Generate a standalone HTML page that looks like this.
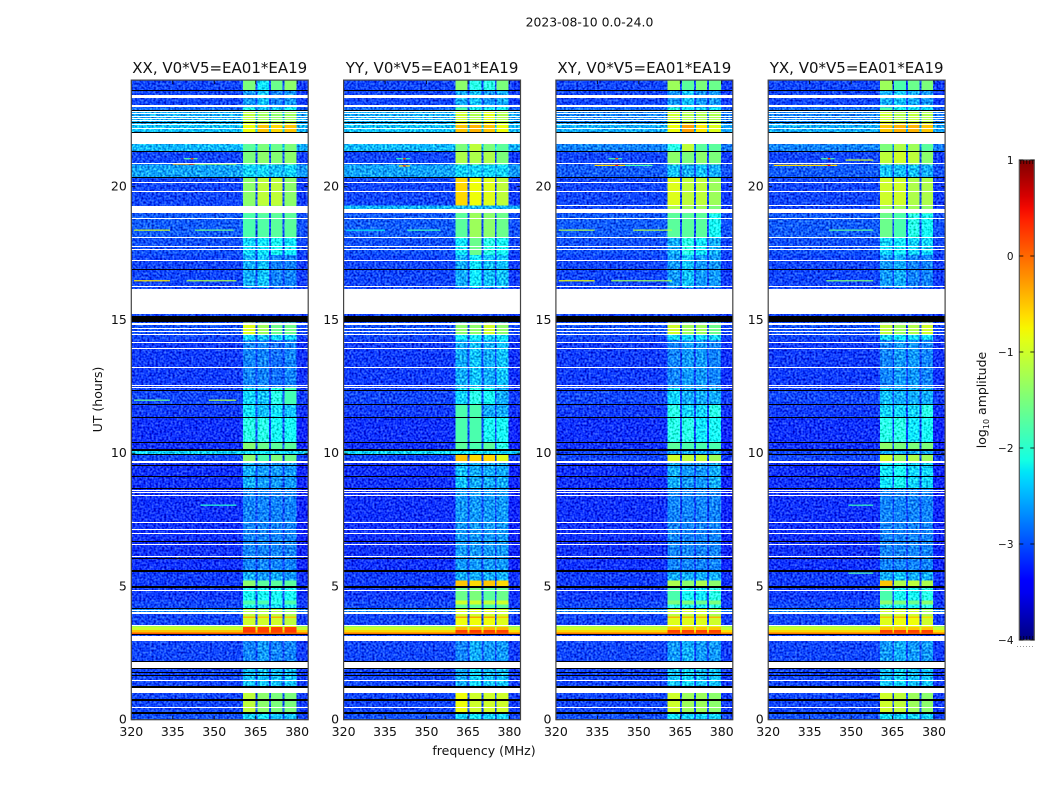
<!DOCTYPE html>
<html lang="en">
<head>
<meta charset="utf-8">
<title>2023-08-10 dynamic spectra</title>
<style>
html,body{margin:0;padding:0;background:#fff;width:1050px;height:800px;overflow:hidden}
svg{display:block}
text{font-family:"DejaVu Sans","Liberation Sans",sans-serif;fill:#111}
</style>
</head>
<body>
<svg id="chart" xmlns="http://www.w3.org/2000/svg" width="1050" height="800" viewBox="0 0 1050 800">
  <defs id="defs"></defs>
  <rect x="0" y="0" width="1050" height="800" fill="#fff"/>
  <text x="589.5" y="26.5" font-size="12.4" text-anchor="middle">2023-08-10 0.0-24.0</text>
  <text x="484" y="755" font-size="12.5" text-anchor="middle">frequency (MHz)</text>
  <text transform="translate(102,399.5) rotate(-90)" font-size="12.5" text-anchor="middle">UT (hours)</text>
  <text transform="translate(986,400) rotate(-90)" font-size="12.5" text-anchor="middle">log<tspan font-size="8" dy="3">10</tspan><tspan dy="-3"> amplitude</tspan></text>
</svg>
<script>
// ---- axis data ----
const panelNames = ["XX", "YY", "XY", "YX"];
const freqTicks = [320, 335, 350, 365, 380];
const hourTicks = [0, 5, 10, 15, 20];
const colorTicks = [1, 0, -1, -2, -3, -4];
// frequency edges (MHz): background, band1, gap, band2, gap, band3, gap, band4, background
const freqEdges = [320, 360.4, 364.9, 365.6, 369.9, 370.6, 374.7, 375.4, 379.7, 384];
// time edges (UT hours) bounding the rows of each panel table
const timeEdges = [24,23.62,22.98,22.83,22.38,22,21.6,21.33,20.84,20.36,19.3,19.15,19,18.1,17.43,16.19,15.22,14.91,14.47,14.24,12.48,11.84,11.35,10.41,10.11,9.96,9.66,8.69,5.61,5.23,4.97,4.48,4.33,4.18,4,3.88,3.81,3.53,3.47,3.36,3.28,3.21,2.95,2.2,1.93,1.26,1,.28,0];

// log10 amplitude per time row: [background, band1, band2, band3, band4]
const levelsXX = [
[-3.1,-1.5,-2.1,-1.6,-1.4],[-3.1,-2.5,-2.3,-2.6,-2.5],[-2.7,-1.9,-2.3,-2.2,-2],[-2.4,-1.1,-1.3,-1.4,-1.3],[-2.3,-.8,-.5,-.6,-.5],
[-2.3,-1.7,-1.5,-1.6,-1.5],[-2.35,-1.7,-1.5,-1.6,-1.5],[-3.1,-1.5,-1.4,-1.45,-1.4],[-2.45,-2.2,-2.2,-2.3,-2.2],[-3.1,-1.4,-1.1,-1.1,-1.4],
[-3.1,-1.5,-1.4,-1.4,-1.5],[-3.1,-1.6,-1.5,-1.5,-1.6],[-3,-1.8,-1.75,-1.7,-1.7],[-3.05,-2.2,-2.1,-2,-2.1],[-3.1,-2.4,-2.3,-2.6,-2.6],
[-3.1,-3.1,-3.1,-3.1,-3.1],[-3.1,-3.1,-3.1,-3.1,-3.1],[-3.05,-.9,-1.3,-1.6,-1.6],[-3.1,-2.2,-2.3,-2.2,-2.2],[-3.15,-2.6,-2.6,-2.7,-2.6],
[-3.1,-2.2,-2.3,-1.9,-1.85],[-3.15,-2.1,-2.3,-2.1,-2.3],[-3.2,-1.9,-1.9,-2,-2],[-3.2,-1.45,-1.6,-1.7,-1.7],[-2.2,-2.15,-2.1,-2.15,-2.2],
[-3.1,-1.4,-1.8,-1.5,-1.6],[-3.2,-2.4,-2.5,-2.5,-2.5],[-3.2,-2.6,-2.6,-2.6,-2.6],[-3.15,-2.4,-2.5,-2.4,-2.5],[-3.15,-1.4,-1.7,-1.7,-1.7],
[-3.15,-2,-2,-2,-2],[-3.1,-1.8,-1.8,-1.9,-1.8],[-3.1,-2,-2.2,-2.2,-2.1],[-2.6,-1.2,-1.2,-1.2,-1.4],[-3.1,-1.1,-1.1,-1.1,-1.2],
[-3.1,-.4,-.5,-.35,-.5],[-3.1,-1,-1,-1,-1.1],[-1.3,-.9,-.9,-.9,-.9],[-1,.2,.2,.2,.2],[-.5,.25,.2,.2,.25],
[.05,.05,.05,.05,.05],[-3.1,-3.1,-3.1,-3.1,-3.1],[-3.1,-2.6,-2.5,-2.6,-2.6],[-3.1,-3.1,-3.1,-3.1,-3.1],[-3.1,-2.3,-2.3,-2.3,-2.3],
[-3.1,-3.1,-3.1,-3.1,-3.1],[-3.1,-1.1,-1.4,-1.5,-1.5],[-2.85,-2.2,-2.1,-2.3,-2.3]];
const levelsYY = [
[-3.1,-1.4,-1.9,-1.9,-1.5],[-3.1,-2.4,-2.3,-2.5,-2.4],[-2.7,-1.8,-2,-2,-2],[-2.4,-1,-1.2,-.9,-1.2],[-2.3,-.5,-.4,-.5,-.8],
[-2.3,-1.5,-1.1,-1.5,-1.7],[-2.35,-1.5,-1.1,-1.5,-1.7],[-3.1,-1.2,-1.2,-1.2,-1.5],[-2.45,-2.2,-2.2,-2.2,-2.2],[-3.1,-.6,-.8,-.9,-1.1],
[-2.35,-2.35,-2.35,-2.35,-2.35],[-3.1,-1.6,-1.4,-1.5,-1.6],[-3,-1.7,-1.3,-1.4,-1.6],[-3.05,-2.1,-1.6,-1.9,-2],[-3.1,-2.4,-2.1,-2.3,-2.3],
[-3.1,-3.1,-3.1,-3.1,-3.1],[-3.1,-3.1,-3.1,-3.1,-3.1],[-3.05,-1.4,-1.4,-1,-1.4],[-3.1,-2.1,-2.1,-2.2,-2.1],[-3.15,-2.4,-2.3,-2.4,-2.3],
[-3.1,-2.2,-1.9,-2,-2.4],[-3.15,-1.8,-1.8,-2.4,-2.4],[-3.2,-1.8,-1.8,-2,-2],[-3.2,-1.7,-1.8,-1.7,-1.9],[-2.2,-2.15,-2.1,-2.15,-2.2],
[-3.1,-.5,-.6,-.6,-.9],[-3.2,-2.3,-2.4,-2.4,-2.4],[-3.2,-2.5,-2.5,-2.5,-2.5],[-3.15,-2.4,-2.4,-2.4,-2.4],[-3.15,-.5,-.6,-.5,-.6],
[-3.15,-1.6,-1.5,-1.7,-1.6],[-3.1,-1,-1,-1.1,-1],[-3.1,-1.7,-1.7,-1.8,-1.7],[-2.6,-.9,-.9,-.9,-1],[-3.1,-1,-1,-1,-1],
[-3.1,-.3,-.3,-.3,-.5],[-3.1,-.8,-.8,-.8,-.9],[-1.4,-1,-1,-1,-1],[-1,-.4,-.4,-.4,-.4],[-.6,.2,.25,.2,.2],
[-.1,.1,.1,.1,.1],[-3.1,-3.1,-3.1,-3.1,-3.1],[-3.1,-2.6,-2.4,-2.5,-2.5],[-3.1,-3.1,-3.1,-3.1,-3.1],[-3.1,-2.4,-2.2,-2.3,-2.3],
[-3.1,-3.1,-3.1,-3.1,-3.1],[-3.1,-.8,-1,-1,-1],[-2.85,-2.2,-2.1,-2.2,-2.2]];
const levelsXY = [
[-3.1,-1.3,-1.7,-1.5,-1.6],[-3.1,-2.5,-2.3,-2.5,-2.5],[-2.7,-1.9,-2.1,-2.2,-2.1],[-2.6,-1,-1.2,-1.2,-1.2],[-2.4,-.8,-.3,-.7,-.9],
[-2.6,-1.9,-1.1,-1.7,-1.7],[-2.6,-1.9,-1.1,-1.7,-1.7],[-3.1,-1.4,-1.5,-1.4,-1.5],[-3,-2.3,-2.4,-2.3,-2.4],[-3.1,-.9,-1.1,-1.1,-1.3],
[-3.1,-1.2,-1.3,-1.3,-1.5],[-3.1,-1.6,-1.6,-1.6,-1.7],[-3,-1.7,-1.7,-1.7,-2],[-3.05,-2.4,-1.9,-2.1,-2.4],[-3.1,-2.5,-2.3,-2.5,-2.5],
[-3.1,-3.1,-3.1,-3.1,-3.1],[-3.1,-3.1,-3.1,-3.1,-3.1],[-3.05,-1,-1.3,-1.3,-1.6],[-3.1,-2.2,-2.2,-2.2,-2.2],[-3.15,-2.6,-2.5,-2.5,-2.6],
[-3.1,-2.2,-2.4,-2.4,-2.4],[-3.15,-1.9,-2.2,-2.2,-1.9],[-3.2,-1.9,-1.9,-2.1,-2],[-3.2,-1.7,-1.8,-1.8,-1.8],[-3.1,-2.4,-2.4,-2.4,-2.4],
[-3.1,-1,-1.1,-1.1,-1.3],[-3.2,-2.4,-2.5,-2.5,-2.4],[-3.2,-2.6,-2.6,-2.6,-2.6],[-3.15,-2.4,-2.4,-2.4,-2.4],[-3.15,-1.2,-1.4,-1.2,-1.4],
[-3.15,-1.8,-2,-2.1,-1.9],[-3.1,-1.5,-1.5,-1.6,-1.5],[-3.1,-1.9,-2,-2.1,-1.9],[-2.6,-1,-1,-1,-1.2],[-3.1,-1.1,-1.1,-1,-1.2],
[-3.1,-.4,-.4,-.4,-.4],[-3.1,-.9,-.9,-.9,-1],[-1.3,-.9,-.9,-.9,-.9],[-1,-.5,-.5,-.5,-.5],[-.6,.2,.2,.2,.2],
[-.1,.1,.1,.1,.1],[-3.1,-3.1,-3.1,-3.1,-3.1],[-3.1,-2.5,-2.4,-2.5,-2.5],[-3.1,-3.1,-3.1,-3.1,-3.1],[-3.1,-2.3,-2.2,-2.3,-2.3],
[-3.1,-3.1,-3.1,-3.1,-3.1],[-3.1,-1,-1.3,-1.3,-1.4],[-2.85,-2.1,-2.2,-2.2,-2.2]];
const levelsYX = [
[-3.1,-1.3,-1.8,-1.6,-1.5],[-3.1,-2.4,-2.3,-2.4,-2.5],[-2.7,-1.8,-2,-2.1,-2.1],[-2.6,-1,-1.2,-1.1,-1.2],[-2.4,-.5,-.4,-.4,-.5],
[-2.6,-1.5,-1.2,-1.3,-1.7],[-2.6,-1.5,-1.2,-1.3,-1.7],[-3.1,-1.1,-1,-1.1,-1.4],[-3,-2.3,-2.3,-2.3,-2.4],[-3.1,-1,-1,-1.2,-1.2],
[-3.1,-1.3,-1.3,-1.3,-1.4],[-3.1,-1.5,-1.6,-1.6,-1.6],[-3,-1.6,-1.8,-1.9,-2],[-3.05,-2.2,-2.1,-2.2,-2.2],[-3.1,-2.5,-2.4,-2.6,-2.6],
[-3.1,-3.1,-3.1,-3.1,-3.1],[-3.1,-3.1,-3.1,-3.1,-3.1],[-3.05,-1.1,-1.3,-1.2,-1],[-3.1,-2.2,-2.1,-2.2,-2.2],[-3.15,-2.6,-2.5,-2.5,-2.6],
[-3.1,-2.3,-2.4,-2.4,-2.4],[-3.15,-2.2,-2.2,-2.2,-1.9],[-3.2,-1.9,-1.9,-2.1,-2],[-3.2,-1.4,-1.5,-1.5,-1.5],[-3.1,-2.4,-2.4,-2.4,-2.4],
[-3.1,-1,-1.3,-1.2,-1.3],[-3.2,-2.1,-2,-2.2,-2.2],[-3.2,-2.6,-2.6,-2.6,-2.6],[-3.15,-2.4,-2.3,-2.4,-2.4],[-3.15,-.5,-1.2,-1.1,-1.2],
[-3.15,-1.8,-2,-2,-1.9],[-3.1,-1.4,-1.5,-1.6,-1.4],[-3.1,-1.9,-2,-2,-1.9],[-2.6,-1,-1,-1,-1.3],[-3.1,-1.1,-1,-1,-1.2],
[-3.1,-.5,-.4,-.5,-.6],[-3.1,-.9,-.8,-.8,-1],[-1.3,-.9,-.9,-.9,-.9],[-1,-.5,-.5,-.5,-.5],[-.6,.2,.2,.2,.2],
[-.1,.1,.1,.1,.1],[-3.1,-3.1,-3.1,-3.1,-3.1],[-3.1,-2.5,-2.4,-2.5,-2.5],[-3.1,-3.1,-3.1,-3.1,-3.1],[-3.1,-2.3,-2.2,-2.3,-2.3],
[-3.1,-3.1,-3.1,-3.1,-3.1],[-3.1,-1,-1.1,-1.3,-1.4],[-2.85,-2.1,-2.2,-2.2,-2.2]];

// narrow interference lines: [UT hour, start MHz, end MHz, log10 amplitude]
const linesXX = [[18.37,321,334,-1],[18.37,343,357,-1.6],[16.47,321,334,-.7],[16.47,340,358,-1.2],[11.99,321,334,-1.6],[11.99,348,358,-1.2],[21.05,339,344,-1.7],[21.05,341.5,342.5,.4],[20.85,335,343,-.3],[20.85,341,342.5,.6],[20.85,343,358,-1.2],[8.05,345,358,-2],[6.05,336,338,-.9]];
const linesYY = [[21.05,339,344,-2],[21.05,341.5,342.5,.3],[20.78,340,344,-.6],[20.78,341.5,342.5,.4],[18.37,321,335,-2.2],[18.37,343,355,-1.9]];
const linesXY = [[21.05,339,344,-1.8],[21.05,341.5,342.5,.3],[20.8,334,345,-.6],[20.8,341.5,342.5,.5],[20.8,345,355,-1.8],[18.37,321,334,-1.2],[18.37,348,362,-1.2],[16.47,321,334,-.8],[16.47,340,362,-1.3]];
const linesYX = [[21.05,339,344,-1.8],[21.05,341.5,342.5,.3],[20.8,322,345,-.6],[20.8,341.5,342.5,.5],[21,348,358,-1],[18.37,342,358,-1.7],[16.47,341,358,-1.5],[8.05,349,358,-1.9],[5.5,349,358,-1.8]];

// flagged (blank, drawn white) time ranges shared by all panels: [from hour, to hour]
const blankRanges = [[23.32,23.43],[22.99,23.06],[22.81,22.85],[22.72,22.76],[22.63,22.67],[22.55,22.59],[22.46,22.5],[22.3,22.34],[22.17,22.22],[21.6,22],[20.85,20.89],[20.14,20.18],[19.8,19.84],[19.02,19.16],[18.79,18.83],[18.06,18.1],[17.72,17.76],[17.63,17.67],[17.21,17.25],[16.23,16.27],[15.22,16.17],[14.8,14.9],[14.66,14.7],[14.56,14.6],[14.43,14.47],[14.13,14.17],[13.91,13.95],[13.2,13.24],[12.53,12.57],[12.45,12.49],[9.63,9.71],[8.57,8.61],[8.51,8.55],[8.39,8.43],[7.38,7.42],[7.12,7.16],[6.97,7.01],[6.55,6.59],[6.09,6.13],[4.84,4.88],[4.09,4.13],[3.97,4.05],[3.53,3.57],[2.96,3.14],[1.94,2.17],[1.45,1.49],[1,1.18],[.44,.48]];
// extra blank ranges per panel
const blankXX = [[19.18,19.29]];
const blankYY = [];
const blankXY = [[19.27,19.32]];
const blankYX = [[19.27,19.32]];
// zero-amplitude (black) time ranges
const zeroRanges = [[23.59,23.63],[22.85,22.89],[22.38,22.42],[22.02,22.06],[21.3,21.34],[20.32,20.36],[16.87,16.91],[14.92,15.14],[12.34,12.38],[11.81,11.86],[11.33,11.37],[10.39,10.43],[10.1,10.15],[9.93,9.97],[9.53,9.57],[9.12,9.16],[8.66,8.7],[6.65,6.69],[6.04,6.08],[5.55,5.61],[4.96,5],[4.16,4.2],[3.16,3.21],[2.18,2.22],[1.89,1.93],[1.76,1.8],[1.65,1.69],[1.18,1.26],[.72,.76],[.21,.28]];

const panelLevels = [levelsXX, levelsYY, levelsXY, levelsYX];
const panelLines = [linesXX, linesYY, linesXY, linesYX];
const panelBlanks = [blankXX, blankYY, blankXY, blankYX];

// ---- axis functions ----
const NS = "http://www.w3.org/2000/svg";
const svg = document.getElementById("chart");
const defs = document.getElementById("defs");
const panelLeft = [131.3, 343.6, 555.9, 768.2];
const PLOT_W = 176.9;
const PLOT_TOP = 80.1;
const PLOT_BOTTOM = 719.7;
function xScale(mhz) { return (mhz - 320) * PLOT_W / 64; }
function yScale(hour) { return PLOT_BOTTOM - hour * (PLOT_BOTTOM - PLOT_TOP) / 24; }
function ramp(t, pts) {
  for (let i = 1; i < pts.length; i++) {
    if (t <= pts[i][0]) {
      const a = pts[i - 1], b = pts[i];
      return a[1] + (b[1] - a[1]) * (t - a[0]) / (b[0] - a[0]);
    }
  }
  return pts[pts.length - 1][1];
}
function jet(v) {
  const t = Math.max(0, Math.min(1, (v + 4) / 5));
  const r = ramp(t, [[0,0],[.35,0],[.66,1],[.89,1],[1,.5]]);
  const g = ramp(t, [[0,0],[.125,0],[.375,1],[.64,1],[.91,0],[1,0]]);
  const b = ramp(t, [[0,.5],[.11,1],[.34,1],[.65,0],[1,0]]);
  return "rgb(" + Math.round(r * 255) + "," + Math.round(g * 255) + "," + Math.round(b * 255) + ")";
}
// the grain filter shifts perceived colour; compensate so the mean matches the level
function grainColor(v) {
  if (v <= -3) return jet(v);
  if (v <= -1.9) return jet(v - 0.2);
  return jet(v);
}
function mk(tag, attrs, parent) {
  const el = document.createElementNS(NS, tag);
  for (const k in attrs) el.setAttribute(k, attrs[k]);
  parent.appendChild(el);
  return el;
}
function addCell(parent, x0, x1, y0, y1, fill) {
  const cell = mk("rect", { x: x0, y: y0, width: Math.max(0, x1 - x0), height: Math.max(0, y1 - y0), fill: fill, "shape-rendering": "crispEdges" }, parent);
  
  
  return cell;
}
function addRange(parent, range, fill, name) {
  const top = Math.round(yScale(range[1]));
  const bottom = Math.round(yScale(range[0]));
  const mark = mk("rect", { x: 0, y: top, width: PLOT_W, height: Math.max(1, bottom - top), fill: fill, "shape-rendering": "crispEdges" }, parent);
  
  
}

panelNames.forEach(function (name, p) {
  const left = panelLeft[p];
  const fid = "noise" + p;
  // purely visual receiver-noise grain applied to the low-amplitude cells
  const filter = mk("filter", { id: fid, filterUnits: "userSpaceOnUse", x: 0, y: PLOT_TOP, width: PLOT_W, height: PLOT_BOTTOM - PLOT_TOP, "color-interpolation-filters": "sRGB" }, defs);
  mk("feTurbulence", { type: "fractalNoise", baseFrequency: "0.48", numOctaves: "1", seed: String(3 + p * 7), result: "t" }, filter);
  mk("feColorMatrix", { in: "t", type: "matrix", values: "1.8 0 0 0 -0.4 1.8 0 0 0 -0.4 1.8 0 0 0 -0.4 0 0 0 0 1", result: "n" }, filter);
  mk("feComposite", { in: "SourceGraphic", in2: "n", operator: "arithmetic", k1: "0.3", k2: "0.85", k3: "0.45", k4: "-0.17" }, filter);

  const g = mk("g", { transform: "translate(" + left + ",0)" }, svg);
  
  

  const noisy = mk("g", { filter: "url(#" + fid + ")" }, g);
  
  
  const smooth = mk("g", {}, g);
  
  

  const levels = panelLevels[p];
  levels.forEach(function (row, r) {
    const y0 = yScale(timeEdges[r]);
    const y1 = yScale(timeEdges[r + 1]);
    const bg = row[0];
    const gap = Math.max(bg, -2.9);
    const cols = [bg, row[1], gap, row[2], gap, row[3], gap, row[4], bg - 0.05];
    cols.forEach(function (v, c) {
      const isNoisy = v <= -1.9;
      addCell(isNoisy ? noisy : smooth, xScale(freqEdges[c]), xScale(freqEdges[c + 1]), y0, y1, isNoisy ? grainColor(v) : jet(v));
    });
  });

  panelLines[p].forEach(function (l) {
    const mark = mk("rect", { x: xScale(l[1]), y: yScale(l[0]) - 0.6, width: xScale(l[2]) - xScale(l[1]), height: 1.2, fill: jet(l[3]) }, g);
    
    
  });

  blankRanges.concat(panelBlanks[p]).forEach(function (b) {
    addRange(g, b, "#fff", "flagged-time-range");
  });
  zeroRanges.forEach(function (b) {
    addRange(g, b, "#000", "zero-amplitude-range");
  });

  // ticks
  freqTicks.forEach(function (f) {
    const x = xScale(f);
    const t1 = mk("line", { x1: x, x2: x, y1: PLOT_BOTTOM, y2: PLOT_BOTTOM - 4, stroke: "#000", "stroke-width": 0.8 }, g);
    
    
    const t2 = mk("line", { x1: x, x2: x, y1: PLOT_TOP, y2: PLOT_TOP + 4, stroke: "#000", "stroke-width": 0.8 }, g);
    
    
    const lab = mk("text", { x: x, y: 736, "font-size": 12.5, "text-anchor": "middle" }, g);
    lab.textContent = String(f);
    
    
  });
  hourTicks.forEach(function (h) {
    const y = yScale(h);
    const t1 = mk("line", { x1: 0, x2: 4, y1: y, y2: y, stroke: "#000", "stroke-width": 0.8 }, g);
    
    
    const t2 = mk("line", { x1: PLOT_W - 4, x2: PLOT_W, y1: y, y2: y, stroke: "#000", "stroke-width": 0.8 }, g);
    
    
    const lab = mk("text", { x: -4.5, y: y + 4, "font-size": 12.5, "text-anchor": "end" }, g);
    lab.textContent = String(h);
    
    
  });

  const frame = mk("rect", { x: 0, y: PLOT_TOP, width: PLOT_W, height: PLOT_BOTTOM - PLOT_TOP, fill: "none", stroke: "#444", "stroke-width": 1.2 }, g);
  
  

  const title = mk("text", { x: PLOT_W / 2, y: 73, "font-size": 15, "text-anchor": "middle" }, g);
  title.textContent = name + ", V0*V5=EA01*EA19";
  
  
});

// ---- colorbar ----
const CB_X = 1019.3, CB_W = 15, CB_TOP = 160, CB_BOTTOM = 640;
function cbScale(v) { return CB_BOTTOM - (v + 4) * (CB_BOTTOM - CB_TOP) / 5; }
const grad = mk("linearGradient", { id: "jetGrad", x1: 0, y1: 1, x2: 0, y2: 0 }, defs);
for (let i = 0; i <= 40; i++) {
  mk("stop", { offset: (i / 40), "stop-color": jet(-4 + 5 * i / 40) }, grad);
}
const cb = mk("g", {}, svg);


const cbRect = mk("rect", { x: CB_X, y: CB_TOP, width: CB_W, height: CB_BOTTOM - CB_TOP, fill: "url(#jetGrad)", stroke: "#555", "stroke-width": 1.2 }, cb);


colorTicks.forEach(function (v) {
  const y = cbScale(v);
  const t1 = mk("line", { x1: CB_X, x2: CB_X + 4, y1: y, y2: y, stroke: "#000", "stroke-width": 0.8 }, cb);
  
  
  const t2 = mk("line", { x1: CB_X + CB_W - 4, x2: CB_X + CB_W, y1: y, y2: y, stroke: "#000", "stroke-width": 0.8 }, cb);
  
  
  const lab = mk("text", { x: 1013.5, y: y + 3.8, "font-size": 10.5, "text-anchor": "end" }, cb);
  lab.textContent = (v < 0 ? "\u2212" + Math.abs(v) : String(v));
  
  
});
[2, 5, 8, 11, 14].forEach(function (dx) {
  const a = mk("line", { x1: CB_X + dx - .5, x2: CB_X + dx - .5, y1: CB_TOP, y2: CB_TOP + 4, stroke: "#000", "stroke-width": 0.7 }, cb);
  
  
  const b = mk("line", { x1: CB_X + dx - .5, x2: CB_X + dx - .5, y1: CB_BOTTOM - 4, y2: CB_BOTTOM, stroke: "#000", "stroke-width": 0.7 }, cb);
  
  
});
const dots = mk("line", { x1: 1017, x2: 1035, y1: 646.5, y2: 646.5, stroke: "#999", "stroke-width": 1, "stroke-dasharray": "1 2" }, cb);


</script>
</body>
</html>
